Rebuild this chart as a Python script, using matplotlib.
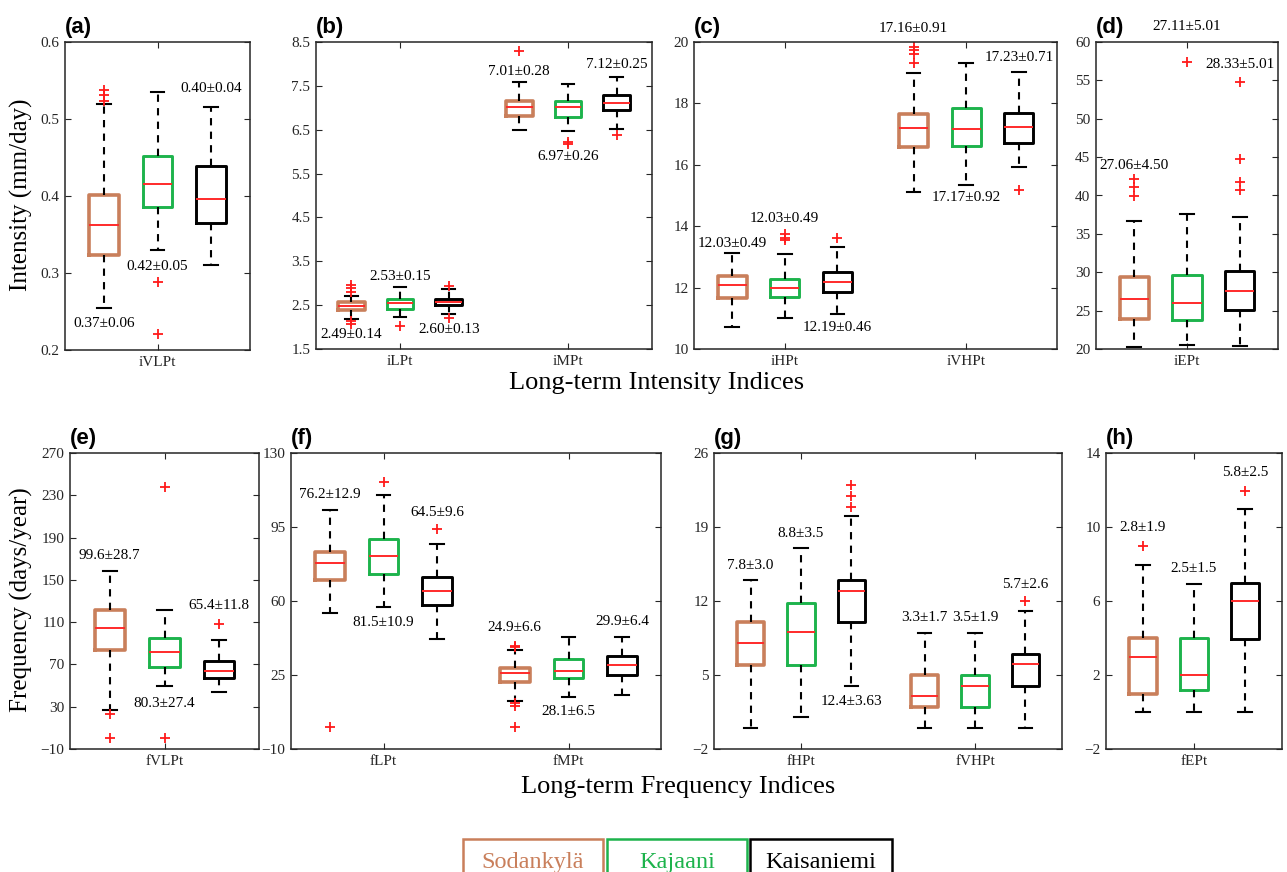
import matplotlib.pyplot as plt
from matplotlib.patches import Rectangle

plt.rcParams['font.family'] = ['Liberation Serif', 'DejaVu Serif']
plt.rcParams['mathtext.fontset'] = 'stix'

stations = ["Sodankylä", "Kajaani", "Kaisaniemi"]
station_colors = ["#C97F5B", "#1DB34C", "#000000"]

# each box row: whislo, q1, median, q3, whishi  (Sodankylä, Kajaani, Kaisaniemi per index)
# (a) very light precipitation intensity
a_ticks = ["iVLPt"]
a_box = [[0.255, 0.324, 0.362, 0.401, 0.520],
         [0.330, 0.386, 0.415, 0.452, 0.535],
         [0.311, 0.365, 0.396, 0.439, 0.516]]
a_fliers = [[0.538, 0.531, 0.524], [0.288, 0.221], []]
a_text = ["0.37±0.06", "0.42±0.05", "0.40±0.04"]
a_text_y = [0.235, 0.308, 0.539]

# (b) light / moderate
b_ticks = ["iLPt", "iMPt"]
b_box = [[2.19, 2.39, 2.49, 2.58, 2.71],
         [2.23, 2.42, 2.55, 2.65, 2.92],
         [2.30, 2.50, 2.58, 2.65, 2.86],
         [6.50, 6.81, 7.01, 7.16, 7.58],
         [6.46, 6.78, 7.01, 7.16, 7.55],
         [6.51, 6.95, 7.11, 7.30, 7.70]]
b_fliers = [[2.96, 2.88, 2.80, 2.14, 2.07], [2.02], [2.94, 2.20],
            [8.30], [6.23, 6.17], [6.39]]
b_text = ["2.49±0.14", "2.53±0.15", "2.60±0.13", "7.01±0.28", "6.97±0.26", "7.12±0.25"]
b_text_y = [1.83, 3.15, 1.94, 7.83, 5.88, 7.98]

# (c) heavy / very heavy
c_ticks = ["iHPt", "iVHPt"]
c_box = [[10.71, 11.66, 12.07, 12.39, 13.13],
         [11.01, 11.70, 11.98, 12.28, 13.09],
         [11.14, 11.87, 12.17, 12.51, 13.32],
         [15.10, 16.58, 17.21, 17.66, 18.98],
         [15.35, 16.62, 17.18, 17.86, 19.32],
         [15.92, 16.71, 17.22, 17.70, 19.03]]
c_fliers = [[], [13.75, 13.62, 13.55], [13.61],
            [19.85, 19.75, 19.62, 19.30], [], [15.18]]
c_text = ["12.03±0.49", "12.03±0.49", "12.19±0.46", "17.16±0.91", "17.17±0.92", "17.23±0.71"]
c_text_y = [13.45, 14.26, 10.70, 20.43, 14.92, 19.51]

# (d) extreme
d_ticks = ["iEPt"]
d_box = [[20.26, 23.89, 26.49, 29.44, 36.63],
         [20.56, 23.79, 26.05, 29.65, 37.55],
         [20.35, 25.09, 27.60, 30.22, 37.16]]
d_fliers = [[42.1, 41.05, 39.9], [57.4], [54.8, 44.8, 41.7, 40.7]]
d_text = ["27.06±4.50", "27.11±5.01", "28.33±5.01"]
d_text_y = [43.88, 61.96, 57.06]

# (e) very light frequency
e_ticks = ["fVLPt"]
e_box = [[26.9, 83.3, 104.3, 121.6, 158.8],
         [49.3, 67.8, 81.4, 95.2, 121.6],
         [43.6, 57.1, 64.1, 73.2, 92.7]]
e_fliers = [[23.5, 0.4], [237.4, 0.4], [108.4]]
e_text = ["99.6±28.7", "80.3±27.4", "65.4±11.8"]
e_text_y = [172.8, 33.4, 125.3]

# (f) light / moderate frequency
f_ticks = ["fLPt", "fMPt"]
f_box = [[54.2, 69.8, 78.0, 83.4, 103.2],
         [57.2, 73.0, 81.2, 89.2, 109.9],
         [42.1, 58.3, 64.5, 71.4, 87.0],
         [12.7, 21.5, 25.9, 28.1, 37.0],
         [14.8, 23.7, 26.9, 32.6, 42.8],
         [15.7, 25.0, 29.9, 34.0, 42.8]]
f_fliers = [[0.2], [116.1], [93.9], [38.8, 38.1, 11.6, 10.2, 0.2], [], []]
f_text = ["76.2±12.9", "81.5±10.9", "64.5±9.6", "24.9±6.6", "28.1±6.5", "29.9±6.4"]
f_text_y = [110.3, 49.9, 101.7, 47.6, 7.8, 50.2]

# (g) heavy / very heavy frequency
g_ticks = ["fHPt", "fVHPt"]
g_box = [[0.0, 5.96, 8.0, 10.05, 13.95],
         [1.0, 5.96, 9.04, 11.8, 16.97],
         [4.0, 10.0, 12.98, 13.95, 20.0],
         [0.0, 2.0, 3.0, 5.0, 9.0],
         [0.0, 2.0, 4.0, 5.0, 9.0],
         [0.0, 4.0, 6.0, 7.0, 11.05]]
g_fliers = [[], [], [23.0, 21.95, 20.93], [], [], [12.0]]
g_text = ["7.8±3.0", "8.8±3.5", "12.4±3.63", "3.3±1.7", "3.5±1.9", "5.7±2.6"]
g_text_y = [15.33, 18.38, 2.5, 10.43, 10.43, 13.6]

# (h) extreme frequency
h_ticks = ["fEPt"]
h_box = [[0.0, 0.95, 2.98, 3.99, 7.94],
         [0.0, 1.2, 2.0, 4.0, 6.94],
         [0.0, 3.97, 6.0, 6.95, 10.99]]
h_fliers = [[8.95], [], [11.97]]
h_text = ["2.8±1.9", "2.5±1.5", "5.8±2.5"]
h_text_y = [9.98, 7.77, 12.93]

W, H = 1287, 872
fig = plt.figure(figsize=(W / 100, H / 100), dpi=100)


def add_ax(x0, x1, y0, y1):
    return fig.add_axes([x0 / W, 1 - y1 / H, (x1 - x0) / W, (y1 - y0) / H])


def draw(ax, ticks, box, fliers, text, text_y, ylim, yticks, tag):
    n = len(ticks)
    pos = [g + 1 + off for g in range(n) for off in (-0.29, 0.0, 0.29)]
    stats = [dict(whislo=b[0], q1=b[1], med=b[2], q3=b[3], whishi=b[4], fliers=f)
             for b, f in zip(box, fliers)]
    art = ax.bxp(stats, positions=pos, widths=0.16, capwidths=0.075,
                 manage_ticks=False,
                 whiskerprops=dict(color='black', linestyle=(0, (3.5, 3)), lw=1.5),
                 capprops=dict(color='black', lw=1.5),
                 medianprops=dict(color='#FF2A2A', lw=1.4),
                 flierprops=dict(marker='+', markeredgecolor='#FF1A1A',
                                 markersize=7, markeredgewidth=1.3, linestyle='none'))
    for i, bx in enumerate(art['boxes']):
        k = i % 3
        bx.set_color(station_colors[k])
        bx.set_linewidth(2.6 if k == 0 else 2.1)
    for i, (t, y) in enumerate(zip(text, text_y)):
        ax.text(pos[i], y, t, ha='center', va='center', fontsize=11, clip_on=False)
    ax.set_xlim(0.5, n + 0.5)
    ax.set_xticks(range(1, n + 1))
    ax.set_xticklabels(ticks, fontsize=11)
    ax.set_ylim(*ylim)
    ax.set_yticks(yticks)
    ax.tick_params(direction='in', top=True, right=True, length=4,
                   labelsize=11, colors='#262626', pad=4)
    for s in ax.spines.values():
        s.set_color('#262626')
        s.set_linewidth(1.1)
    ax.text(0.0, 1.012, tag, transform=ax.transAxes, ha='left', va='bottom',
            fontsize=16, fontweight='bold', family='Liberation Sans')


def steps(lo, hi, st):
    out = []
    v = lo
    while v <= hi + 1e-9:
        out.append(round(v, 3))
        v += st
    return out


draw(add_ax(65, 250, 42, 350), a_ticks, a_box, a_fliers, a_text, a_text_y,
     (0.2, 0.6), steps(0.2, 0.6, 0.1), '(a)')
draw(add_ax(316, 652, 42, 349), b_ticks, b_box, b_fliers, b_text, b_text_y,
     (1.5, 8.5), steps(1.5, 8.5, 1), '(b)')
draw(add_ax(694, 1057, 42, 349), c_ticks, c_box, c_fliers, c_text, c_text_y,
     (10, 20), steps(10, 20, 2), '(c)')
draw(add_ax(1096, 1278, 42, 349), d_ticks, d_box, d_fliers, d_text, d_text_y,
     (20, 60), steps(20, 60, 5), '(d)')
draw(add_ax(70, 259, 453, 749), e_ticks, e_box, e_fliers, e_text, e_text_y,
     (-10, 270), steps(-10, 270, 40), '(e)')
draw(add_ax(291, 661, 453, 749), f_ticks, f_box, f_fliers, f_text, f_text_y,
     (-10, 130), steps(-10, 130, 35), '(f)')
draw(add_ax(714, 1062, 453, 749), g_ticks, g_box, g_fliers, g_text, g_text_y,
     (-2, 26), steps(-2, 26, 7), '(g)')
draw(add_ax(1106, 1282, 453, 749), h_ticks, h_box, h_fliers, h_text, h_text_y,
     (-2, 14), steps(-2, 14, 4), '(h)')

fig.text(21 / W, 1 - 195 / H, "Intensity (mm/day)", rotation=90,
         ha='center', va='center', fontsize=18)
fig.text(21 / W, 1 - 600 / H, "Frequency (days/year)", rotation=90,
         ha='center', va='center', fontsize=18)
fig.text(657 / W, 1 - 383 / H, "Long-term Intensity Indices",
         ha='center', va='center', fontsize=19)
fig.text(678 / W, 1 - 787 / H, "Long-term Frequency Indices",
         ha='center', va='center', fontsize=19)

# legend: one framed label per station
leg_x = [463, 607, 750]
leg_w = [140, 140, 142]
for name, col, x0, w in zip(stations, station_colors, leg_x, leg_w):
    fig.add_artist(Rectangle((x0 / W, 1 - 884 / H), w / W, 45 / H,
                             transform=fig.transFigure, fill=False,
                             edgecolor=col, lw=1.8))
    fig.text((x0 + w / 2) / W, 1 - 862 / H, name, color=col,
             ha='center', va='center', fontsize=17.5)

fig.savefig("out.png", dpi=100)
